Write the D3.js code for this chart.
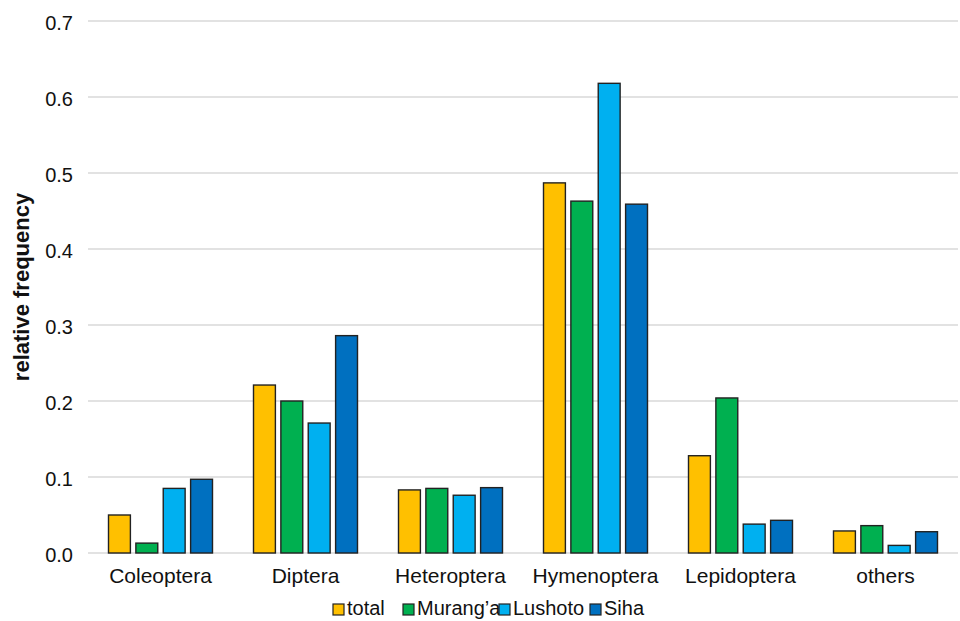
<!DOCTYPE html>
<html><head><meta charset="utf-8">
<script src="https://cdn.jsdelivr.net/npm/d3@7"></script>
<style>body{margin:0;background:#fff}svg{display:block;font-family:"Liberation Sans",Arial,sans-serif}</style>
</head><body><svg id="c" width="960" height="621"></svg>
<script>
const categories = ["Coleoptera","Diptera","Heteroptera","Hymenoptera","Lepidoptera","others"];
const seriesNames = ["total","Murang\u2019a","Lushoto","Siha"];
const total    = [0.050,0.221,0.083,0.487,0.128,0.029];
const muranga  = [0.013,0.200,0.085,0.463,0.204,0.036];
const lushoto  = [0.085,0.171,0.076,0.618,0.038,0.010];
const siha     = [0.097,0.286,0.086,0.459,0.043,0.028];
const yTicks = [0,0.1,0.2,0.3,0.4,0.5,0.6,0.7];
const colors = ["#FFC000","#00B050","#00B0F0","#0070C0"];
const series = [total,muranga,lushoto,siha];

const svg = d3.select("#c");
const pL=88,pR=958,pT=21,pB=553;
const x = d3.scaleBand().domain(categories).range([pL,pR]).paddingInner(0).paddingOuter(0);
const y = d3.scaleLinear().domain([0,0.7]).range([pB,pT]);
const x1 = d3.scaleBand().domain(d3.range(4)).range([0,104]).paddingInner(0.2);

// gridlines
svg.append("g").selectAll("line").data(yTicks).join("line")
  .attr("x1",pL).attr("x2",pR).attr("y1",d=>y(d)).attr("y2",d=>y(d))
  .attr("stroke","#d9d9d9").attr("stroke-width",1.3);

// y axis labels
const yAxis = d3.axisLeft(y).tickValues(yTicks).tickFormat(d3.format(".1f")).tickSize(0).tickPadding(15);
const ga = svg.append("g").attr("transform",`translate(${pL},0)`).call(yAxis);
ga.select(".domain").remove();
ga.selectAll("text").attr("font-size",20).attr("fill","#111").attr("dy","0.42em").attr("font-family","Liberation Sans,Arial,sans-serif");

// bars
const groups = svg.append("g").selectAll("g").data(categories).join("g")
  .attr("transform",d=>`translate(${x(d)+x.bandwidth()/2-52},0)`);
groups.selectAll("rect").data((d,i)=>series.map((s,j)=>({j,v:s[i]}))).join("rect")
  .attr("x",d=>x1(d.j)).attr("width",x1.bandwidth())
  .attr("y",d=>y(d.v)).attr("height",d=>y(0)-y(d.v))
  .attr("fill",d=>colors[d.j]).attr("stroke","#222").attr("stroke-width",1.4);

// x labels
const xAxis = d3.axisBottom(x).tickSize(0).tickPadding(0);
const gx = svg.append("g").attr("transform",`translate(0,${pB})`).call(xAxis);
gx.select(".domain").remove();
gx.selectAll("text").attr("font-size",21).attr("fill","#111").attr("dy",null).attr("y",30).attr("font-family","Liberation Sans,Arial,sans-serif");

// y title
svg.append("text").attr("transform","translate(29,287) rotate(-90)").attr("text-anchor","middle")
  .attr("font-size",22).attr("font-weight","bold").attr("fill","#111").text("relative frequency");

// legend
const legX = [333,403,499,590];
const lg = svg.append("g").selectAll("g").data(seriesNames).join("g")
  .attr("transform",(d,i)=>`translate(${legX[i]},0)`);
lg.append("rect").attr("x",0).attr("y",604).attr("width",11).attr("height",11)
  .attr("fill",(d,i)=>colors[i]).attr("stroke","#222").attr("stroke-width",1.2);
lg.append("text").attr("x",14).attr("y",615).attr("font-size",20).attr("fill","#111").text(d=>d);
</script></body></html>
